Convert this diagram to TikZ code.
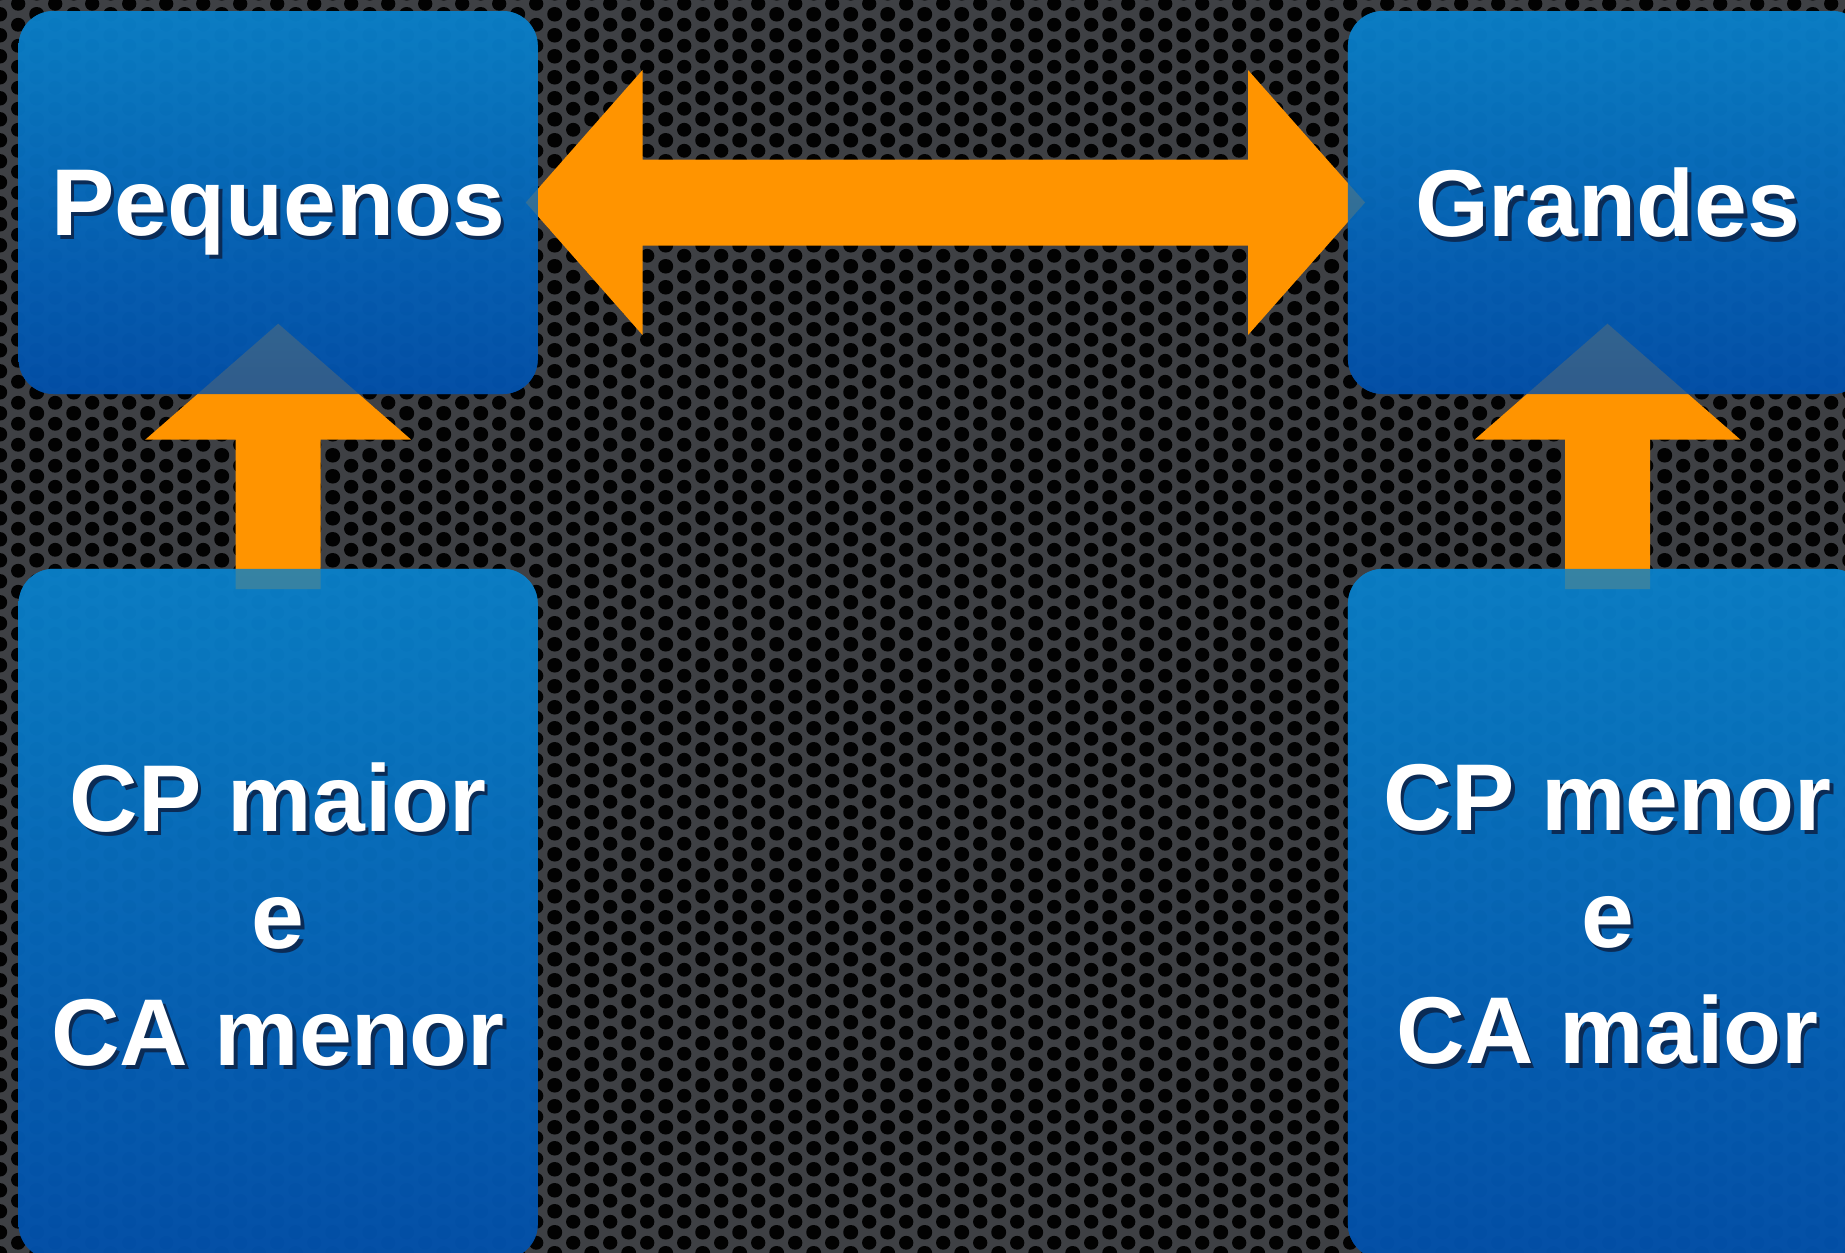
\documentclass[tikz,border=0pt]{standalone}
\usepackage{fontspec}
\setmainfont{Liberation Sans}
\usepackage{tikz}
\usetikzlibrary{positioning, calc, patterns}
\definecolor{bgcolor}{HTML}{3E4044}
\definecolor{holecolor}{HTML}{020202}
\definecolor{boxtop}{HTML}{0A80C8}
\definecolor{boxbot}{HTML}{0350AA}
\definecolor{arrowcolor}{HTML}{FF9400}
\definecolor{txtshadow}{HTML}{0B2B55}

% perforated metal background
\pgfdeclarepatternformonly{holes}{\pgfpointorigin}{\pgfpoint{10.44pt}{6.03pt}}%
  {\pgfpoint{10.44pt}{6.03pt}}{%
  \pgfpathcircle{\pgfpoint{0pt}{0pt}}{2.05pt}
  \pgfpathcircle{\pgfpoint{10.44pt}{0pt}}{2.05pt}
  \pgfpathcircle{\pgfpoint{0pt}{6.03pt}}{2.05pt}
  \pgfpathcircle{\pgfpoint{10.44pt}{6.03pt}}{2.05pt}
  \pgfpathcircle{\pgfpoint{5.22pt}{3.015pt}}{2.05pt}
  \pgfusepath{fill}}

% white text with a dark drop shadow
\newcommand{\shtxt}[1]{\makebox[0pt][l]{\hspace{1pt}\raisebox{-1.2pt}{\textcolor{txtshadow}{#1}}}#1}

\begin{document}
\begin{tikzpicture}[
    box/.style={rounded corners=0.35cm, minimum width=5.192cm, inner sep=0pt,
                top color=boxtop, bottom color=boxbot, fill opacity=0.82,
                text opacity=1, text=white, align=center, text depth=0pt,
                font=\fontsize{27}{33.2}\selectfont\bfseries},
    arr/.style={fill=arrowcolor}
]
    \useasboundingbox (0,0) rectangle (18.45,-12.52);

    % Background
    \fill[bgcolor] (-0.2,0.2) rectangle (18.65,-12.72);
    \fill[pattern=holes, pattern color=holecolor] (-0.2,0.2) rectangle (18.65,-12.72);

    % Boxes (placed first, drawn over the arrows below)
    \path (2.782,-2.025) node[box, minimum height=3.83cm] (peq) {\phantom{x}};
    \path node[box, minimum height=3.83cm, right=8.087cm of peq] (gra) {\phantom{x}};
    \path node[box, minimum height=6.903cm, below=1.734cm of peq] (cpa) {\phantom{x}};
    \path node[box, minimum height=6.903cm, below=1.734cm of gra] (cpm) {\phantom{x}};

    % Double arrow Pequenos <-> Grandes
    \coordinate (lt) at ($(peq.east)+(-0.127,0)$);
    \coordinate (rt) at ($(gra.west)+(0.178,0)$);
    \fill[arr] (lt) -- ++(1.167,1.325) -- ++(0,-0.895)
        -- ($(rt)+(-1.17,0.43)$) -- ++(0,0.895) -- (rt)
        -- ++(-1.17,-1.325) -- ++(0,0.895)
        -- ($(lt)+(1.167,-0.43)$) -- ++(0,-0.895) -- cycle;

    % Up arrows
    \fill[arr] ($(peq.south)+(0,0.71)$) -- ++(1.33,-1.16) -- ++(-0.905,0)
        -- ($(cpa.north)+(0.425,-0.21)$) -- ++(-0.85,0)
        -- ($(peq.south)+(-0.425,-0.45)$) -- ++(-0.905,0) -- cycle;
    \fill[arr] ($(gra.south)+(0,0.71)$) -- ++(1.33,-1.16) -- ++(-0.905,0)
        -- ($(cpm.north)+(0.425,-0.21)$) -- ++(-0.85,0)
        -- ($(gra.south)+(-0.425,-0.45)$) -- ++(-0.905,0) -- cycle;

    % Boxes with text
    \node[box, minimum height=3.83cm] at (peq) {\shtxt{Pequenos}};
    \node[box, minimum height=3.83cm] at (gra) {\shtxt{Grandes}};
    \node[box, minimum height=6.903cm] at (cpa)
         {\shtxt{CP maior}\\\shtxt{e}\\\shtxt{CA menor}};
    \node[box, minimum height=6.903cm] at (cpm)
         {\shtxt{CP menor}\\\shtxt{e}\\\shtxt{CA maior}};
\end{tikzpicture}
\end{document}
